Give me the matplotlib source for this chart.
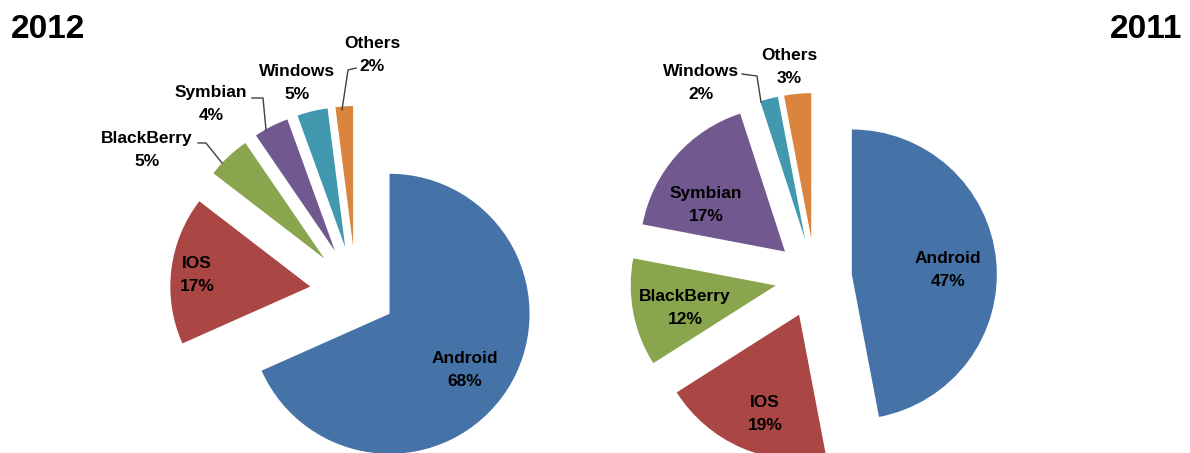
import matplotlib
matplotlib.use("Agg")
import matplotlib.pyplot as plt

# ---------------- data ----------------
os_names = ['Android', 'IOS', 'BlackBerry', 'Symbian', 'Windows', 'Others']
share_2012 = [68, 17, 5, 4, 3.5, 2]
share_2011 = [47, 19, 12, 17, 2, 3]
pct_labels_2012 = ['68%', '17%', '5%', '4%', '5%', '2%']
pct_labels_2011 = ['47%', '19%', '12%', '17%', '2%', '3%']
years = ['2012', '2011']

colors = ['#4572A7', '#AA4643', '#89A54E', '#71588F', '#4198AF', '#DB843D']

W, H = 1190, 453
fig = plt.figure(figsize=(W / 100, H / 100), dpi=100)
ax = fig.add_axes([0, 0, 1, 1])

def Y(y):
    return H - y

FONT = ['Liberation Sans', 'DejaVu Sans']

# 2012 pie
ax.pie(share_2012, colors=colors, startangle=90, counterclock=False,
       radius=140, center=(356, Y(292)),
       explode=[40, 46, 46, 46, 46, 46],
       wedgeprops=dict(linewidth=0))
# 2011 pie
ax.pie(share_2011, colors=colors, startangle=90, counterclock=False,
       radius=145, center=(815, Y(278)),
       explode=[37, 40, 40, 40, 40, 40],
       wedgeprops=dict(linewidth=0))

ax.set_xlim(0, W)
ax.set_ylim(0, H)
ax.set_aspect('auto')
ax.axis('off')

# label positions (screen coords of text centre)
pos_2012 = [(465, 370), (197, 275), (147, 150), (211, 104), (297, 83), (372, 55)]
pos_2011 = [(948, 270), (765, 414), (685, 308), (706, 205), (701, 83), (789, 67)]

for names, pcts, pos in ((os_names, pct_labels_2012, pos_2012),
                         (os_names, pct_labels_2011, pos_2011)):
    for n, p, (x, y) in zip(names, pcts, pos):
        ax.text(x, Y(y), n + '\n' + p, ha='center', va='center',
                fontsize=12.5, fontweight='bold', family=FONT,
                linespacing=1.65, color='black')

# leader lines
leaders = [
    [(198, 143), (206, 143), (222, 163)],   # BlackBerry 2012
    [(252, 98), (263, 98), (266, 130)],     # Symbian 2012
    [(356, 68), (348, 70), (342, 110)],     # Others 2012
    [(742, 74), (757, 76), (761, 102)],     # Windows 2011
]
for pts in leaders:
    xs = [p[0] for p in pts]
    ys = [Y(p[1]) for p in pts]
    ax.plot(xs, ys, color='#404040', lw=1)

# year titles
ax.text(11, Y(29), years[0], ha='left', va='center', fontsize=24,
        fontweight='bold', family=FONT)
ax.text(1182, Y(29), years[1], ha='right', va='center', fontsize=24,
        fontweight='bold', family=FONT)

fig.savefig('out.png', dpi=100, facecolor='white')
